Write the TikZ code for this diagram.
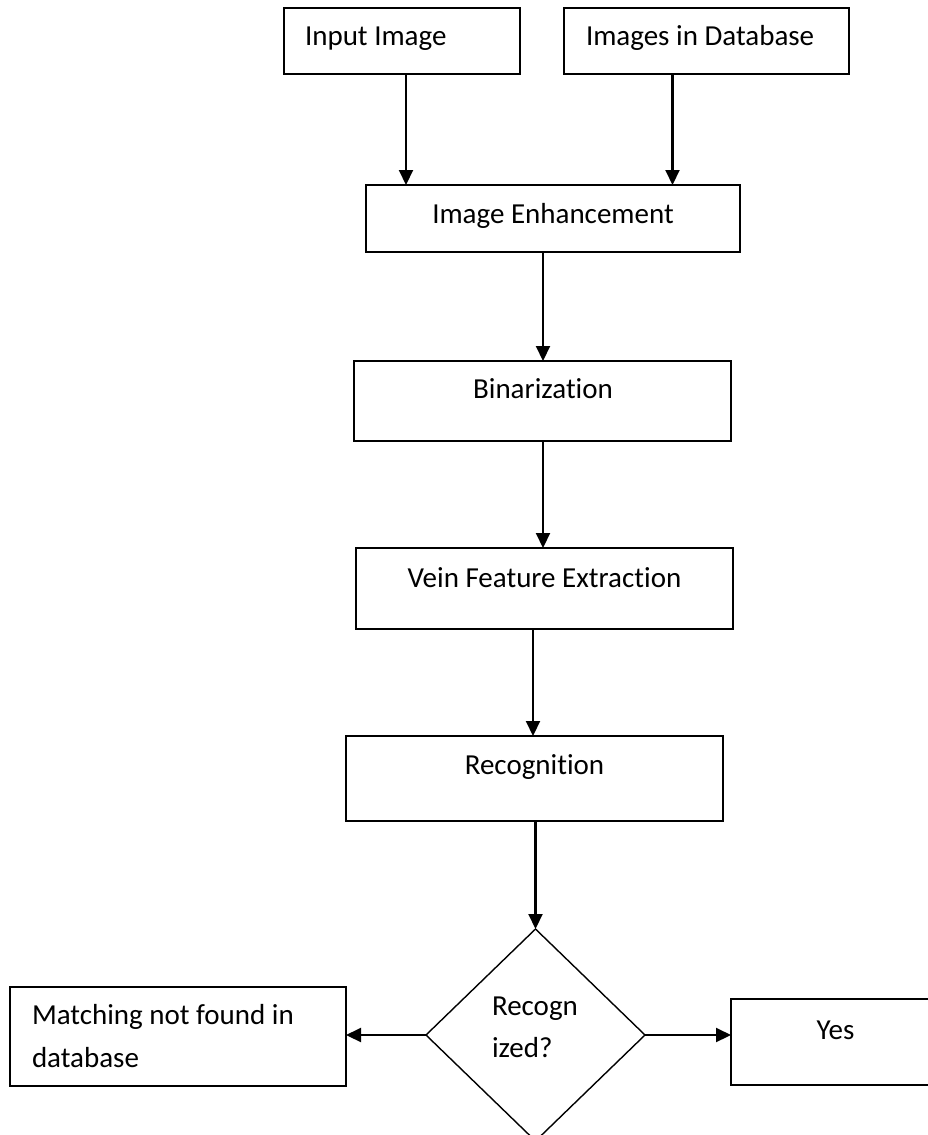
\documentclass[tikz,border=0pt]{standalone}
\usepackage{fontspec}
\setmainfont{Carlito}[Ligatures=NoCommon]
\usetikzlibrary{arrows.meta,shapes.geometric,calc}
\tikzset{
  boxnode/.style={draw=black, line width=1.9pt, rectangle, inner sep=0pt, outer sep=0pt, anchor=center},
  txt/.style={inner sep=0pt, outer sep=0pt, anchor=base, font=\fontsize{29}{42}\selectfont},
  txtw/.style={txt, anchor=base west},
  arr/.style={line width=2.1pt, -{Triangle[length=15pt,width=14pt]}},
  decision/.style={draw=black, line width=1.4pt, shape=diamond, inner sep=0pt, outer sep=0pt, anchor=center}
}
\begin{document}
\begin{tikzpicture}[x=1pt,y=-1pt]
\useasboundingbox (0,0) rectangle (928,1135);
\fill[white] (0,0) rectangle (928,1135);
\clip (0,0) rectangle (928,1135);

% boxes
\node[boxnode, minimum width=236pt, minimum height=66pt] (inp) at (402,41) {};
\node[boxnode, minimum width=285pt, minimum height=66pt] (db) at (706.5,41) {};
\node[boxnode, minimum width=374pt, minimum height=67pt] (enh) at (553,218.5) {};
\node[boxnode, minimum width=377pt, minimum height=80pt] (bin) at (542.5,401) {};
\node[boxnode, minimum width=377pt, minimum height=81pt] (vein) at (544.5,588.5) {};
\node[boxnode, minimum width=377pt, minimum height=85pt] (rec) at (534.5,778.5) {};
\node[decision, minimum width=219pt, minimum height=212pt] (dia) at (535.5,1035) {};
\node[boxnode, minimum width=336pt, minimum height=99pt] (match) at (178,1036.5) {};
\node[boxnode, minimum width=214pt, minimum height=86pt] (yes) at (838,1042) {};

% texts
\node[txtw] (tinp) at (305,45) {Input Image};
\node[txtw] (tdb) at (586,45) {Images in Database};
\node[txt] (tenh) at (553,223) {Image Enhancement};
\node[txt] (tbin) at (543,398) {Binarization};
\node[txt] (tvein) at (544.5,587) {Vein Feature Extraction};
\node[txt] (trec) at (534.5,774) {Recognition};
\node[txtw] (tdia1) at (492,1015) {Recogn};
\node[txtw] (tdia2) at (492,1057) {ized?};
\node[txtw] (tm1) at (32,1024) {Matching not found in};
\node[txtw] (tm2) at (32,1067) {database};
\node[txt] (tyes) at (835.5,1039) {Yes};

% connectors
\draw[arr] ([xshift=4pt]inp.south) -- ([xshift=4pt]inp.south |- enh.north);
\draw[arr] ([xshift=-34pt]db.south) -- ([xshift=-34pt]db.south |- enh.north);
\draw[arr] ([xshift=-10pt]enh.south) -- ([xshift=-10pt]enh.south |- bin.north);
\draw[arr] ([xshift=0.5pt]bin.south) -- ([xshift=0.5pt]bin.south |- vein.north);
\draw[arr] ([xshift=-11.5pt]vein.south) -- ([xshift=-11.5pt]vein.south |- rec.north);
\draw[arr] (rec.south -| dia.north) -- (dia.north);
\draw[arr] (dia.west) -- (dia.west -| match.east);
\draw[arr] (dia.east) -- (dia.east -| yes.west);
\end{tikzpicture}
\end{document}
